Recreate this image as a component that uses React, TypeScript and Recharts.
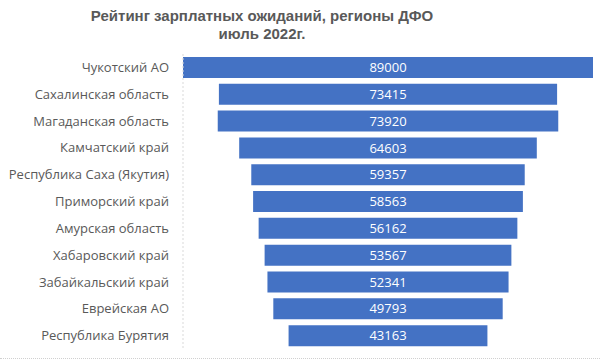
import { BarChart, Bar, XAxis, YAxis, LabelList } from 'recharts';

const regions = [
  'Чукотский АО',
  'Сахалинская область',
  'Магаданская область',
  'Камчатский край',
  'Республика Саха (Якутия)',
  'Приморский край',
  'Амурская область',
  'Хабаровский край',
  'Забайкальский край',
  'Еврейская АО',
  'Республика Бурятия',
];

const wages = [89000, 73415, 73920, 64603, 59357, 58563, 56162, 53567, 52341, 49793, 43163];

const maxWage = Math.max(...wages);

// funnel: an invisible spacer pushes each bar to the centre
const rows = regions.map((name, i) => ({
  name,
  offset: (maxWage - wages[i]) / 2,
  value: wages[i],
}));

export default function App() {
  return (
    <div style={{ position: 'absolute', left: 0, top: 0, width: 600, height: 361, background: '#fff' }}>
      <div
        style={{
          position: 'absolute',
          left: 0,
          top: 7,
          width: 524,
          textAlign: 'center',
          fontFamily: '"Liberation Sans", Arial, sans-serif',
          fontWeight: 'bold',
          fontSize: 15,
          lineHeight: '18px',
          color: '#595959',
        }}
      >
        Рейтинг зарплатных ожиданий, регионы ДФО
        <br />
        июль 2022г.
      </div>
      <BarChart
        width={600}
        height={361}
        data={rows}
        layout="vertical"
        margin={{ top: 54, right: 7, bottom: 12, left: 0 }}
        barCategoryGap="11%"
      >
        <XAxis type="number" domain={[0, maxWage]} hide />
        <YAxis
          type="category"
          dataKey="name"
          width={183}
          tickLine={false}
          axisLine={{ stroke: '#d9d9d9', strokeDasharray: '2 2' }}
          tick={{ fill: '#595959', fontSize: 13, fontFamily: '"Open Sans", sans-serif' }}
          tickMargin={8}
          interval={0}
        />
        <Bar dataKey="offset" stackId="f" fill="transparent" isAnimationActive={false} />
        <Bar dataKey="value" stackId="f" fill="#4472C4" isAnimationActive={false}>
          <LabelList
            dataKey="value"
            position="center"
            fill="#ffffff"
            fontSize={13}
            fontFamily='"Open Sans", sans-serif'
          />
        </Bar>
      </BarChart>
      <div
        style={{
          position: 'absolute',
          left: 0,
          top: 358,
          width: 600,
          borderTop: '1px dotted #d0d0d0',
        }}
      />
    </div>
  );
}
